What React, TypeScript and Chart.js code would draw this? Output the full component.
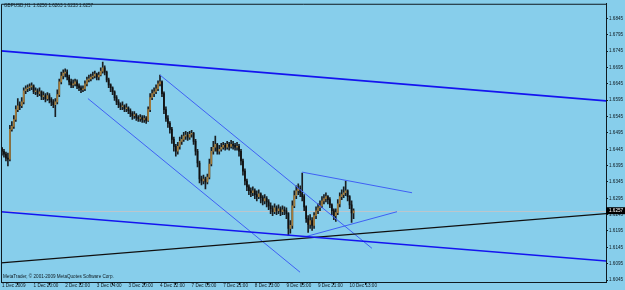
import React, { useEffect, useRef } from "react";
import { Chart, registerables } from "chart.js";
Chart.register(...registerables);

// H1 GBPUSD bars, 1 Dec 2009 04:00 .. 10 Dec 2009 15:00 (bar index 0..178)
const openP = [
  1.6448,1.6439,1.6430,1.6418,1.6415,1.6506,1.6515,1.6536,1.6566,1.6578,
  1.6578,1.6590,1.6624,1.6630,1.6633,1.6636,1.6639,1.6621,1.6624,1.6615,
  1.6621,1.6606,1.6609,1.6600,1.6609,1.6597,1.6590,1.6581,1.6590,1.6612,
  1.6651,1.6669,1.6678,1.6681,1.6666,1.6651,1.6642,1.6645,1.6651,1.6639,
  1.6633,1.6627,1.6630,1.6645,1.6657,1.6660,1.6666,1.6669,1.6675,1.6666,
  1.6672,1.6684,1.6694,1.6681,1.6657,1.6642,1.6633,1.6621,1.6603,1.6590,
  1.6581,1.6575,1.6578,1.6569,1.6572,1.6563,1.6554,1.6548,1.6551,1.6542,
  1.6539,1.6542,1.6536,1.6539,1.6533,1.6566,1.6603,1.6615,1.6621,1.6630,
  1.6645,1.6651,1.6615,1.6566,1.6539,1.6524,1.6506,1.6475,1.6454,1.6439,
  1.6454,1.6469,1.6475,1.6485,1.6488,1.6482,1.6491,1.6494,1.6469,1.6439,
  1.6403,1.6354,1.6348,1.6354,1.6345,1.6360,1.6400,1.6439,1.6451,1.6460,
  1.6439,1.6445,1.6451,1.6457,1.6451,1.6460,1.6454,1.6460,1.6457,1.6451,
  1.6454,1.6439,1.6409,1.6378,1.6348,1.6330,1.6318,1.6312,1.6318,1.6306,
  1.6300,1.6309,1.6297,1.6287,1.6294,1.6284,1.6272,1.6263,1.6254,1.6266,
  1.6257,1.6263,1.6254,1.6260,1.6257,1.6248,1.6203,1.6212,1.6272,1.6303,
  1.6318,1.6324,1.6312,1.6300,1.6269,1.6233,1.6215,1.6227,1.6212,1.6242,
  1.6257,1.6266,1.6272,1.6287,1.6294,1.6300,1.6291,1.6275,1.6257,1.6242,
  1.6251,1.6278,1.6300,1.6306,1.6312,1.6318,1.6300,1.6275,1.6250
];
const highP = [
  1.6451,1.6445,1.6436,1.6433,1.6518,1.6530,1.6548,1.6578,1.6600,1.6590,
  1.6603,1.6633,1.6639,1.6642,1.6645,1.6648,1.6642,1.6633,1.6630,1.6633,
  1.6624,1.6621,1.6615,1.6618,1.6615,1.6603,1.6597,1.6600,1.6627,1.6660,
  1.6681,1.6688,1.6691,1.6688,1.6672,1.6660,1.6657,1.6660,1.6657,1.6645,
  1.6639,1.6639,1.6654,1.6666,1.6672,1.6675,1.6681,1.6684,1.6678,1.6681,
  1.6694,1.6712,1.6700,1.6684,1.6663,1.6645,1.6636,1.6624,1.6609,1.6597,
  1.6587,1.6590,1.6581,1.6584,1.6575,1.6569,1.6560,1.6560,1.6554,1.6548,
  1.6551,1.6548,1.6548,1.6545,1.6575,1.6615,1.6627,1.6633,1.6642,1.6654,
  1.6672,1.6654,1.6621,1.6575,1.6548,1.6530,1.6512,1.6482,1.6460,1.6466,
  1.6482,1.6488,1.6497,1.6500,1.6497,1.6500,1.6503,1.6497,1.6475,1.6445,
  1.6409,1.6363,1.6366,1.6360,1.6369,1.6415,1.6451,1.6469,1.6485,1.6463,
  1.6457,1.6463,1.6466,1.6463,1.6469,1.6466,1.6472,1.6469,1.6463,1.6466,
  1.6460,1.6445,1.6415,1.6385,1.6354,1.6336,1.6327,1.6330,1.6324,1.6318,
  1.6321,1.6312,1.6303,1.6306,1.6300,1.6291,1.6281,1.6272,1.6278,1.6272,
  1.6275,1.6269,1.6272,1.6269,1.6266,1.6251,1.6227,1.6287,1.6318,1.6333,
  1.6339,1.6333,1.6372,1.6306,1.6272,1.6242,1.6245,1.6236,1.6251,1.6269,
  1.6278,1.6287,1.6300,1.6306,1.6312,1.6303,1.6297,1.6278,1.6263,1.6263,
  1.6291,1.6312,1.6321,1.6330,1.6348,1.6321,1.6303,1.6287,1.6263
];
const lowP = [
  1.6427,1.6421,1.6409,1.6394,1.6409,1.6500,1.6509,1.6530,1.6560,1.6566,
  1.6572,1.6584,1.6615,1.6621,1.6624,1.6627,1.6615,1.6612,1.6606,1.6609,
  1.6597,1.6597,1.6590,1.6594,1.6587,1.6578,1.6572,1.6545,1.6584,1.6606,
  1.6645,1.6660,1.6666,1.6657,1.6642,1.6633,1.6633,1.6639,1.6630,1.6624,
  1.6618,1.6621,1.6624,1.6639,1.6651,1.6654,1.6660,1.6663,1.6657,1.6657,
  1.6669,1.6678,1.6672,1.6651,1.6633,1.6621,1.6612,1.6594,1.6581,1.6572,
  1.6566,1.6566,1.6560,1.6560,1.6554,1.6545,1.6536,1.6539,1.6533,1.6530,
  1.6530,1.6527,1.6527,1.6524,1.6530,1.6560,1.6597,1.6606,1.6615,1.6624,
  1.6639,1.6606,1.6554,1.6530,1.6512,1.6494,1.6463,1.6439,1.6424,1.6430,
  1.6445,1.6460,1.6469,1.6475,1.6472,1.6475,1.6482,1.6460,1.6427,1.6391,
  1.6342,1.6336,1.6339,1.6324,1.6339,1.6354,1.6394,1.6430,1.6439,1.6430,
  1.6430,1.6439,1.6445,1.6442,1.6445,1.6442,1.6448,1.6445,1.6442,1.6442,
  1.6424,1.6397,1.6366,1.6336,1.6318,1.6306,1.6300,1.6303,1.6294,1.6287,
  1.6294,1.6281,1.6275,1.6278,1.6269,1.6260,1.6248,1.6242,1.6248,1.6245,
  1.6248,1.6242,1.6245,1.6245,1.6233,1.6182,1.6188,1.6203,1.6266,1.6294,
  1.6306,1.6300,1.6287,1.6257,1.6221,1.6191,1.6203,1.6197,1.6203,1.6233,
  1.6248,1.6257,1.6266,1.6278,1.6284,1.6278,1.6266,1.6245,1.6230,1.6224,
  1.6245,1.6269,1.6291,1.6297,1.6303,1.6287,1.6263,1.6221,1.6233
];
const closeP = [
  1.6439,1.6430,1.6418,1.6415,1.6506,1.6515,1.6536,1.6566,1.6578,1.6578,
  1.6590,1.6624,1.6630,1.6633,1.6636,1.6639,1.6621,1.6624,1.6615,1.6621,
  1.6606,1.6609,1.6600,1.6609,1.6597,1.6590,1.6581,1.6590,1.6612,1.6651,
  1.6669,1.6678,1.6681,1.6666,1.6651,1.6642,1.6645,1.6651,1.6639,1.6633,
  1.6627,1.6630,1.6645,1.6657,1.6660,1.6666,1.6669,1.6675,1.6666,1.6672,
  1.6684,1.6694,1.6681,1.6657,1.6642,1.6633,1.6621,1.6603,1.6590,1.6581,
  1.6575,1.6578,1.6569,1.6572,1.6563,1.6554,1.6548,1.6551,1.6542,1.6539,
  1.6542,1.6536,1.6539,1.6533,1.6566,1.6603,1.6615,1.6621,1.6630,1.6645,
  1.6651,1.6615,1.6566,1.6539,1.6524,1.6506,1.6475,1.6454,1.6439,1.6454,
  1.6469,1.6475,1.6485,1.6488,1.6482,1.6491,1.6494,1.6469,1.6439,1.6403,
  1.6354,1.6348,1.6354,1.6345,1.6360,1.6400,1.6439,1.6451,1.6460,1.6439,
  1.6445,1.6451,1.6457,1.6451,1.6460,1.6454,1.6460,1.6457,1.6451,1.6454,
  1.6439,1.6409,1.6378,1.6348,1.6330,1.6318,1.6312,1.6318,1.6306,1.6300,
  1.6309,1.6297,1.6287,1.6294,1.6284,1.6272,1.6263,1.6254,1.6266,1.6257,
  1.6263,1.6254,1.6260,1.6257,1.6248,1.6203,1.6212,1.6272,1.6303,1.6318,
  1.6324,1.6312,1.6300,1.6269,1.6233,1.6215,1.6227,1.6212,1.6242,1.6257,
  1.6266,1.6272,1.6287,1.6294,1.6300,1.6291,1.6275,1.6257,1.6242,1.6251,
  1.6278,1.6300,1.6306,1.6312,1.6318,1.6300,1.6275,1.6250,1.6257
];

const xTickIdx = [0, 16, 32, 48, 64, 80, 96, 112, 128, 144, 160, 176];
const xTickLabels = [
  "1 Dec 2009", "1 Dec 20:00", "2 Dec 12:00", "3 Dec 04:00", "3 Dec 20:00", "4 Dec 12:00",
  "7 Dec 05:00", "7 Dec 21:00", "8 Dec 13:00", "9 Dec 05:00", "9 Dec 21:00", "10 Dec 13:00"
];
const yTickValues = [
  1.6045, 1.6095, 1.6145, 1.6195, 1.6245, 1.6295, 1.6345, 1.6395, 1.6445,
  1.6495, 1.6545, 1.6595, 1.6645, 1.6695, 1.6745, 1.6795, 1.6845
];
const titleText = "GBPUSD,H1  1.6250 1.6263 1.6233 1.6257";
const copyrightText = "MetaTrader, \u00A9 2001-2009 MetaQuotes Software Corp.";
const bidPrice = 1.6257;

// trend lines: [barIndex, price] end points
const thickLineTop = [[-1, 1.6746], [306, 1.6593]];
const thickLineBottom = [[-1, 1.6254], [306, 1.6103]];
const blackLine = [[-1, 1.6097], [306, 1.6248]];
const channelUpper = [[80, 1.6672], [187.3, 1.6142]];
const channelLower = [[43.5, 1.6600], [150.9, 1.6069]];
const triangleTop = [[152, 1.6375], [207.6, 1.6312]];
const triangleBottom = [[153.9, 1.6178], [200, 1.6254]];

const BG = "#87ceeb";
const FG = "#0f1a20";
const FONT = "Liberation Sans";

export default function App() {
  const ref = useRef<HTMLCanvasElement | null>(null);
  useEffect(() => {
    document.body.style.margin = "0";
    document.body.style.background = BG;
    const canvas = ref.current!;
    const idx = closeP.map((_, i) => i);
    const bull = "#a57c3a";
    const bear = "#101010";
    const toPts = (arr: number[][]) => arr.map(([x, y]) => ({ x, y }));
    const line = (arr: number[][], color: string, w: number) => ({
      type: "line" as const,
      data: toPts(arr),
      borderColor: color,
      borderWidth: w,
      pointRadius: 0,
      fill: false,
      tension: 0,
      order: 1,
    });

    const decor = {
      id: "mtDecor",
      beforeDraw(chart: any) {
        const ctx = chart.ctx;
        ctx.save();
        ctx.fillStyle = BG;
        ctx.fillRect(0, 0, chart.width, chart.height);
        ctx.restore();
      },
      beforeDatasetsDraw(chart: any) {
        const ctx = chart.ctx;
        const a = chart.chartArea;
        const y = Math.round(chart.scales.y.getPixelForValue(bidPrice)) + 0.5;
        ctx.save();
        ctx.strokeStyle = "#bcc6cc";
        ctx.lineWidth = 1;
        ctx.beginPath();
        ctx.moveTo(a.left, y);
        ctx.lineTo(a.right, y);
        ctx.stroke();
        ctx.restore();
      },
      afterDraw(chart: any) {
        const ctx = chart.ctx;
        const a = chart.chartArea;
        ctx.save();
        ctx.strokeStyle = FG;
        ctx.lineWidth = 1;
        ctx.beginPath();
        ctx.moveTo(a.left + 0.5, a.bottom);
        ctx.lineTo(a.left + 0.5, a.top + 0.5);
        ctx.lineTo(a.right, a.top + 0.5);
        ctx.stroke();
        ctx.fillStyle = FG;
        ctx.font = `4.6px "${FONT}"`;
        ctx.textBaseline = "middle";
        ctx.textAlign = "left";
        ctx.fillText(titleText, 4, 6);
        ctx.fillText(copyrightText, 3, 277);
        const y = chart.scales.y.getPixelForValue(bidPrice);
        ctx.fillStyle = "#000";
        ctx.fillRect(a.right, y - 3.5, chart.width - a.right, 7);
        ctx.fillStyle = "#fff";
        ctx.fillText(bidPrice.toFixed(4), a.right + 3, y);
        ctx.restore();
      },
    };

    const chart = new Chart(canvas, {
      type: "bar",
      data: {
        datasets: [
          line(thickLineTop, "#1414f0", 1.6),
          line(thickLineBottom, "#1414f0", 1.6),
          line(blackLine, "#101010", 1.2),
          line(channelUpper, "#3f60f5", 1),
          line(channelLower, "#3f60f5", 1),
          line(triangleTop, "#3f60f5", 1),
          line(triangleBottom, "#3f60f5", 1),
          {
            type: "bar" as const,
            data: idx.map((i) => ({ x: i, y: [lowP[i], highP[i]] })) as any,
            backgroundColor: "#1a1f22",
            barThickness: 1,
            grouped: false,
            borderWidth: 0,
            order: 3,
          },
          {
            type: "bar" as const,
            data: idx.map((i) => ({ x: i, y: [openP[i], closeP[i]] })) as any,
            backgroundColor: idx.map((i) => (closeP[i] > openP[i] ? bull : bear)),
            barThickness: 1,
            minBarLength: 1,
            grouped: false,
            borderWidth: 0,
            order: 2,
          },
        ],
      },
      options: {
        responsive: false,
        animation: false,
        devicePixelRatio: 1,
        layout: { padding: { left: 1, top: 1, right: 0, bottom: 0 } },
        plugins: { legend: { display: false }, tooltip: { enabled: false } },
        events: [],
        scales: {
          x: {
            type: "linear",
            min: -0.5,
            max: 305.8,
            offset: false,
            afterFit: (s: any) => { s.height = 8; },
            afterBuildTicks: (s: any) => { s.ticks = xTickIdx.map((v) => ({ value: v })); },
            grid: { display: true, drawOnChartArea: false, drawTicks: true, tickLength: 3, color: FG },
            border: { display: true, color: FG, width: 1 },
            ticks: {
              autoSkip: false,
              maxRotation: 0,
              minRotation: 0,
              align: "start",
              padding: -2,
              color: FG,
              font: { family: FONT, size: 4.6 },
              callback: (v: any) => {
                const k = xTickIdx.indexOf(Number(v));
                return k >= 0 ? xTickLabels[k] : "";
              },
            },
          },
          y: {
            type: "linear",
            position: "right",
            min: 1.6039,
            max: 1.6890,
            beginAtZero: false,
            afterFit: (s: any) => { s.width = 19; },
            afterBuildTicks: (s: any) => { s.ticks = yTickValues.map((v) => ({ value: v })); },
            grid: { display: true, drawOnChartArea: false, drawTicks: true, tickLength: 2, color: FG },
            border: { display: true, color: FG, width: 1 },
            ticks: {
              autoSkip: false,
              padding: 1,
              color: FG,
              font: { family: FONT, size: 4.6 },
              callback: (v: any) => Number(v).toFixed(4),
            },
          },
        },
      } as any,
      plugins: [decor],
    });
    return () => chart.destroy();
  }, []);
  return <canvas ref={ref} width={625} height={290} style={{ display: "block" }} />;
}
